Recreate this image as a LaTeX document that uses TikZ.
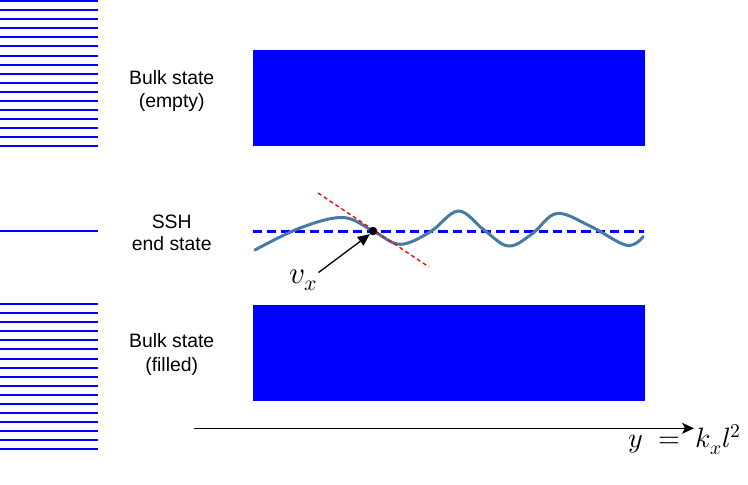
\documentclass[tikz,border=0pt]{standalone}
\usepackage{fontspec}
\usepackage{unicode-math}
\setmainfont{Liberation Sans}
\setmathfont{Latin Modern Math}
\usetikzlibrary{arrows.meta}
\definecolor{wave}{RGB}{72,122,166}
\tikzset{
  level/.style={draw=blue, line width=1.8pt},
  band/.style={fill=blue, draw=blue, line width=0.6pt, minimum width=391pt, minimum height=95pt, inner sep=0pt, anchor=north west},
  lbl/.style={font=\fontsize{19.4}{23}\selectfont, anchor=base, inner sep=0pt},
  mathlbl/.style={inner sep=0pt},
}
\begin{document}
\begin{tikzpicture}[x=1pt,y=-1pt]
\useasboundingbox (0,0) rectangle (748,485);
% left energy levels
\foreach \i in {0,...,16}{
  \draw[level] (0,{round(1.2+9.06*\i)}) -- (98,{round(1.2+9.06*\i)});
  \draw[level] (0,{round(304.3+9.04*\i)}) -- (98,{round(304.3+9.04*\i)});
}
\draw[level] (0,231) -- (98,231);
% bands
\node[band] (top) at (252.8,49.8) {};
\node[band] (bot) at (252.8,305.2) {};
% labels
\node[lbl] (t1) at (171.7,84.3) {Bulk state};
\node[lbl] (t2) at (171.7,107.3) {(empty)};
\node[lbl] (s1) at (171.7,228.3) {SSH};
\node[lbl] (s2) at (171.7,250.3) {end state};
\node[lbl] (b1) at (171.7,347.7) {Bulk state};
\node[lbl] (b2) at (171.7,371) {(filled)};
% end state dashed line
\coordinate (dl) at (252.5,231);
\coordinate (dr) at (644,231);
\draw[blue, line width=3pt, dash pattern=on 9.3pt off 5pt] (dl) -- (dr);
% wave
\draw[wave, line width=3pt, line cap=round] plot[smooth, tension=0.6] coordinates {
 (255,250) (300,228) (343,217.5) (373,231) (400,244.3) (430,232) (458.3,211) (484,230) (508.3,246) (532,234) (556.7,213.5) (590,226) (626.7,245.3) (643.3,236.5)};
% tangent
\coordinate (ta) at (318,193);
\coordinate (tb) at (429,267);
\draw[red, line width=1.3pt, dash pattern=on 4pt off 3pt] (ta) -- (tb);
% dot
\node[circle, fill=black, inner sep=0pt, minimum size=8.5pt] (dot) at (373,231) {};
% v_x
\node[mathlbl, anchor=base west] (vx) at (289.5,283) {\fontsize{31}{36}\selectfont $v_x$};
\coordinate (va) at (318.5,272.5);
\draw[black, line width=1.3pt, -{Triangle[length=12pt,width=10.5pt]}] (va) -- (dot.south west);
% axis
\coordinate (ax1) at (193.5,428.3);
\coordinate (ax2) at (694,428.3);
\draw[black, line width=1.3pt, -{Stealth[length=12pt,width=11pt,inset=3pt]}] (ax1) -- (ax2);
\node[mathlbl, anchor=base east] (yl) at (741,447.5) {\fontsize{28}{34}\selectfont $y \mskip 5mu = \mskip 5mu k_x l^2$};
\end{tikzpicture}
\end{document}
